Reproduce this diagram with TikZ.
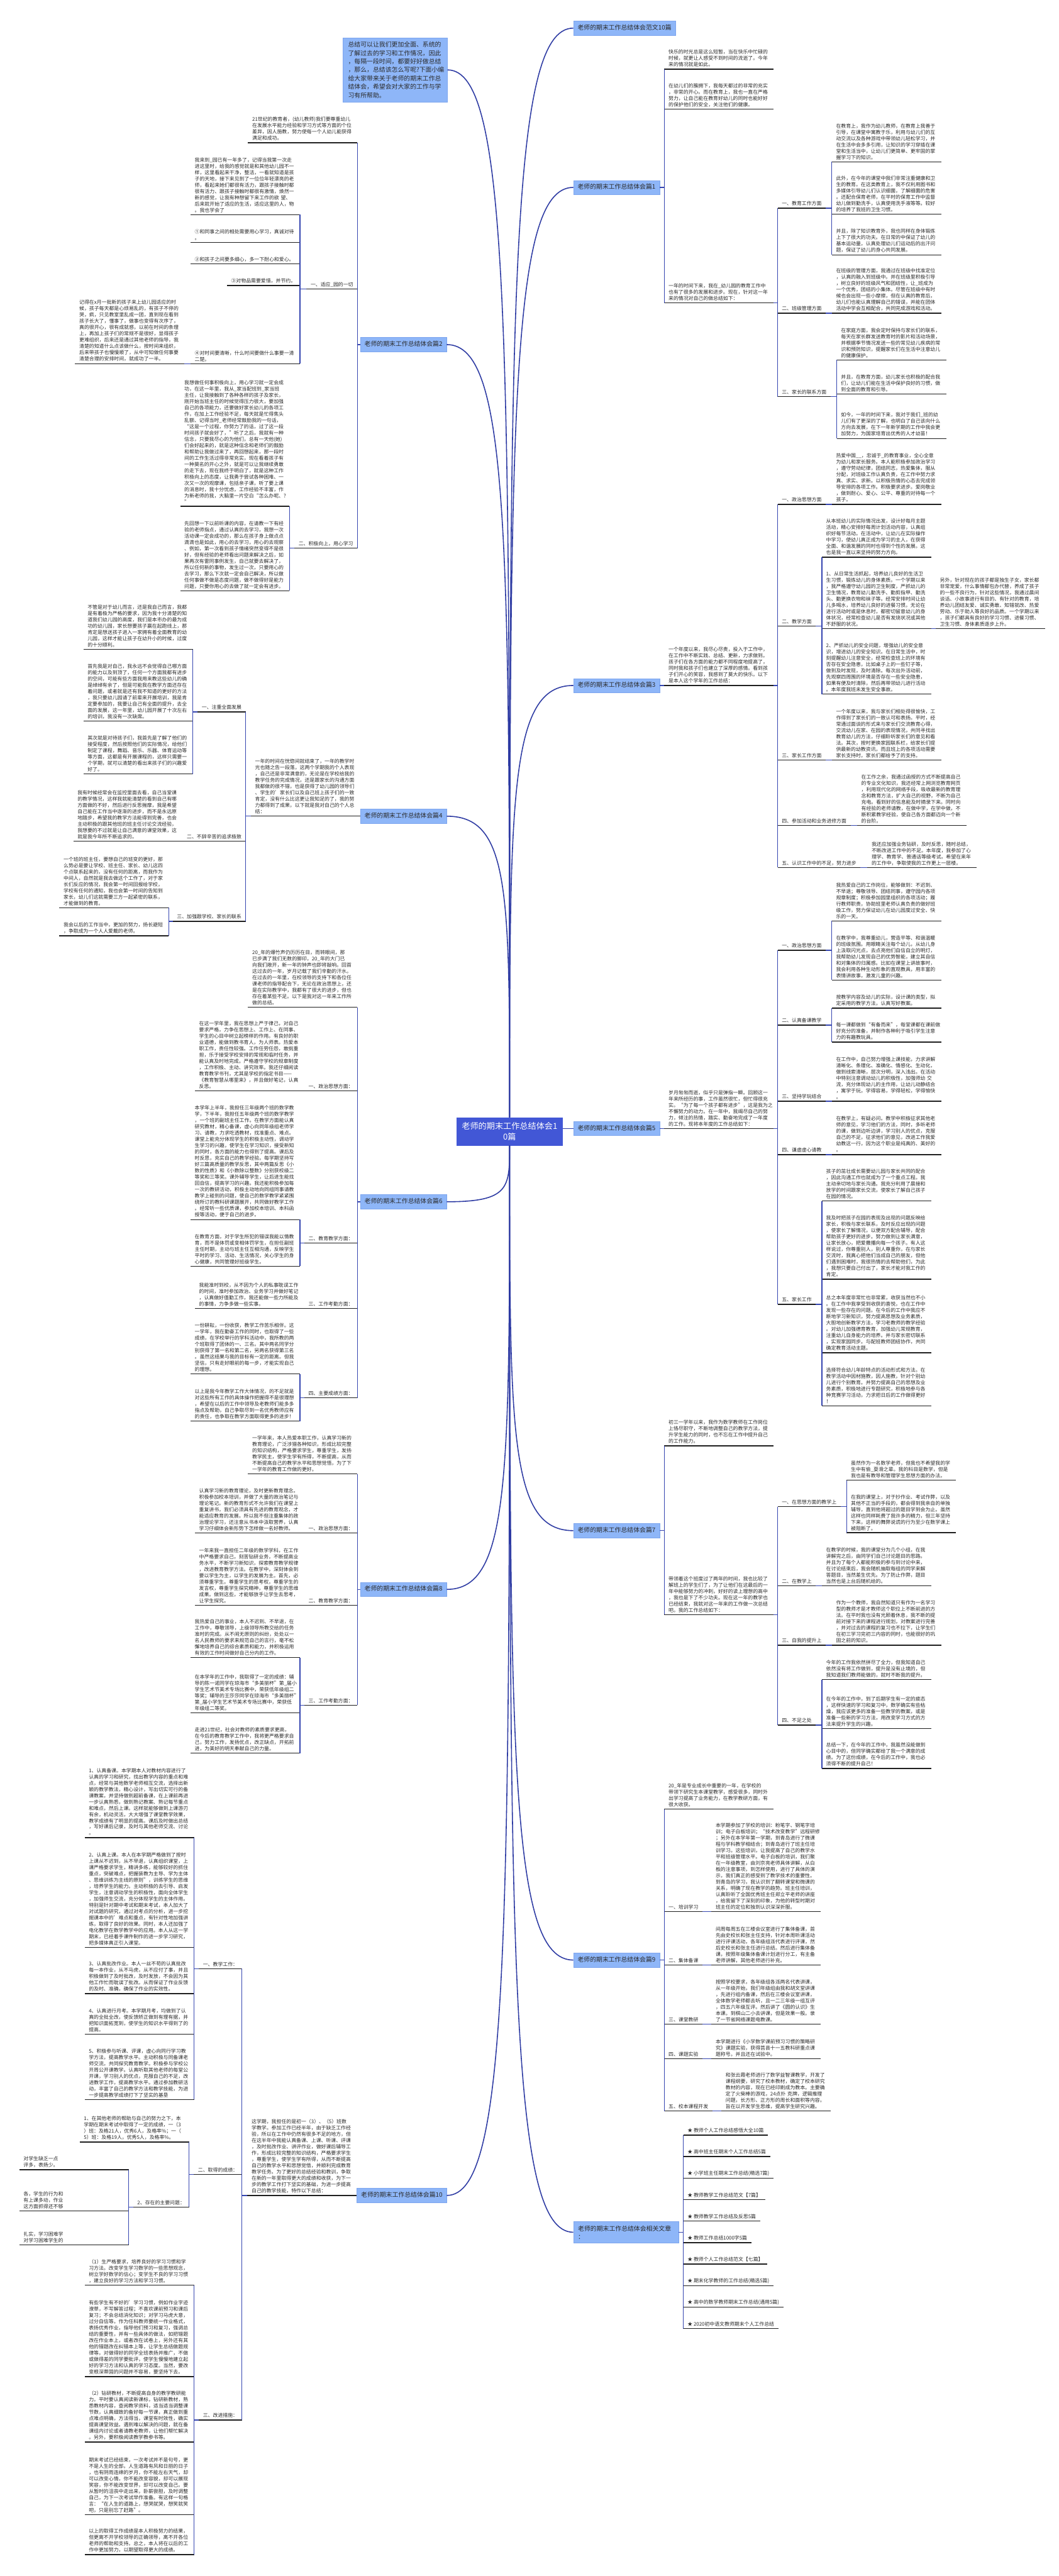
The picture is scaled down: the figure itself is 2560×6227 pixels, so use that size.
\documentclass[tikz,border=0pt]{standalone}
\usepackage{fontspec}
\setmainfont{Noto Sans CJK SC}
\usetikzlibrary{calc}
\definecolor{boxc}{HTML}{8EB6F8}
\definecolor{boxd}{HTML}{7DA5EE}
\definecolor{ctrc}{HTML}{4257D6}
\definecolor{curvec}{HTML}{2E3BA3}
\definecolor{busc}{HTML}{3545B0}
\definecolor{ulc}{HTML}{1E1E1E}
\definecolor{txt}{HTML}{2A2A2A}
\tikzset{
  mmline/.style={draw=ulc,line width=2pt},
  mmul/.style={append after command={(\tikzlastnode.south west) edge[mmline] (\tikzlastnode.south east)}},
  mmbody/.style={font=\fontsize{12}{15.2}\selectfont,text width=244pt,align=left,inner xsep=10pt,inner ysep=5pt,text=txt,mmul},
  mmlab/.style={font=\fontsize{12}{15.2}\selectfont,inner xsep=10pt,inner ysep=5pt,text=txt,mmul},
  mmbus/.style={draw=busc,line width=2pt},
  mmcurve/.style={draw=curvec,line width=2.4pt},
  mmbranch/.style={fill=boxc,draw=boxd,line width=0.8pt,font=\fontsize{15}{20}\selectfont,inner xsep=10pt,inner ysep=9pt,text=txt,text height=12pt,text depth=4pt},
  mmbranchb/.style={fill=boxc,draw=boxd,line width=0.8pt,font=\fontsize{15}{20}\selectfont,inner xsep=11pt,inner ysep=9pt,text=txt,text width=232pt,align=left},
  mmintro/.style={fill=boxc,draw=boxd,line width=0.8pt,font=\fontsize{15}{20.3}\selectfont,inner xsep=12pt,inner ysep=10pt,text=txt,text width=228pt,align=left},
  mmcenter/.style={fill=ctrc,draw=ctrc,font=\fontsize{20}{25.5}\selectfont,text=white,align=center,text width=232pt,inner xsep=12pt,inner ysep=12pt}
}
\newcommand{\mmRN}[4]{\node[mmbody,anchor=south west] (#1) at (#2,#3) {#4};}
\newcommand{\mmLN}[4]{\node[mmbody,anchor=south east] (#1) at (#2,#3) {#4};}
\newcommand{\mmRL}[4]{\node[mmlab,anchor=south west] (#1) at (#2,#3) {#4};}
\newcommand{\mmLL}[4]{\node[mmlab,anchor=south east] (#1) at (#2,#3) {#4};}
\newcommand{\mmR}[2]{\draw[mmbus] (#1.south east) -| (#2.south west);}
\newcommand{\mmL}[2]{\draw[mmbus] (#1.south west) -| (#2.south east);}
\begin{document}
\begin{tikzpicture}[x=1pt,y=-1pt]
\fill[white] (0,0) rectangle (2560,6227);
\useasboundingbox (0,0) rectangle (2560,6227);

% ---------- center and branches ----------
\node[mmcenter] (ct) at (1232,2735) {老师的期末工作总结体会1\\0篇};

\node[mmbranch,anchor=west] (rb0) at (1386,68) {老师的期末工作总结体会范文10篇};
\node[mmbranch,anchor=west] (rb1) at (1386,453) {老师的期末工作总结体会篇1};
\node[mmbranch,anchor=west] (rb3) at (1386,1657) {老师的期末工作总结体会篇3};
\node[mmbranch,anchor=west] (rb5) at (1386,2728) {老师的期末工作总结体会篇5};
\node[mmbranch,anchor=west] (rb7) at (1386,3700) {老师的期末工作总结体会篇7};
\node[mmbranch,anchor=west] (rb9) at (1386,4738) {老师的期末工作总结体会篇9};
\node[mmbranchb,anchor=west] (rbx) at (1386,5396) {老师的期末工作总结体会相关文章\\：};

\node[mmintro,anchor=east] (lb0) at (1082,169) {总结可以让我们更加全面、系统的\\了解过去的学习和工作情况，因此\\，每隔一段时间，都要好好做总结\\，那么，总结该怎么写呢?下面小编\\给大家带来关于老师的期末工作总\\结体会，希望会对大家的工作与学\\习有所帮助。};
\node[mmbranch,anchor=east] (lb2) at (1080,833) {老师的期末工作总结体会篇2};
\node[mmbranch,anchor=east] (lb4) at (1080,1973) {老师的期末工作总结体会篇4};
\node[mmbranch,anchor=east] (lb6) at (1080,2905) {老师的期末工作总结体会篇6};
\node[mmbranch,anchor=east] (lb8) at (1080,3842) {老师的期末工作总结体会篇8};
\node[mmbranch,anchor=east] (lb10) at (1080,5307) {老师的期末工作总结体会篇10};

\foreach \b in {rb0,rb1,rb3}
  {\draw[mmcurve] (ct.north) .. controls ($(ct.north)!0.75!(ct.north |- \b.west)$) and (ct.north |- \b.west) .. (\b.west);}
\foreach \b in {rb7,rb9,rbx}
  {\draw[mmcurve] (ct.south) .. controls ($(ct.south)!0.75!(ct.south |- \b.west)$) and (ct.south |- \b.west) .. (\b.west);}
\foreach \b in {lb0,lb2,lb4}
  {\draw[mmcurve] (ct.north) .. controls ($(ct.north)!0.75!(ct.north |- \b.east)$) and (ct.north |- \b.east) .. (\b.east);}
\foreach \b in {lb6,lb8,lb10}
  {\draw[mmcurve] (ct.south) .. controls ($(ct.south)!0.75!(ct.south |- \b.east)$) and (ct.south |- \b.east) .. (\b.east);}
\draw[mmcurve] (ct.east |- rb5.west) -- (rb5.west);

% ---------- 篇1 ----------
\mmRN{r1a}{1606}{167}{快乐的时光总是这么短暂，当在快乐中忙碌的\\时候，就更让人感受不到时间的流逝了。今年\\来的情况就是如此。}
\mmRN{r1b}{1606}{264}{在幼儿们的簇拥下，我每天都过的非常的充实\\，非常的开心。而在教育上，我也一直在严格\\努力，让自己能在教育好幼儿的同时也能好好\\的保护他们的安全，关注他们的健康。}
\mmRN{r1c}{1606}{732}{一年的时间下来，我在\_幼儿园的教育工作中\\也有了很多的发展和进步。现在，针对这一年\\来的情况对自己的做总结如下：}
\mmRL{r1c1}{1880}{503}{一、教育工作方面}
\mmRN{r1c1a}{2011}{391}{在教育上，我作为幼儿教师，在教育上我善于\\引导，在课堂中寓教于乐，利用与幼儿们的互\\动交流以及各种游戏中带领幼儿轻松学习，并\\在生活中会多多引用，让知识的学习穿插在课\\堂和生活当中，让幼儿们更简单、更牢固的掌\\握学习下的知识。}
\mmRN{r1c1b}{2011}{518}{此外，在今年的课堂中我们非常注重健康和卫\\生的教育。在这类教育上，我不仅利用图书和\\多媒体引导幼儿们认识细菌，了解细菌的危害\\。还配合保育老师，在平时的保育工作中监督\\幼儿做到勤洗手，认真使用洗手液等等。较好\\的培养了我班的卫生习惯。}
\mmRN{r1c1c}{2011}{616}{并且，除了知识教育外，我也同样在身体锻炼\\上下了很大的功夫。在日常的中保证了幼儿的\\基本运动量，认真处理幼儿们运动后的出汗问\\题，保证了幼儿的身心共同发展。}
\mmRL{r1c2}{1880}{757}{二、班级管理方面}
\mmRN{r1c2a}{2011}{757}{在班级的管理方面，我通过在班级中找准定位\\，认真的融入到班级中。并在班级里积极引导\\，树立良好的班级风气和团结性，让\_班成为\\一个优秀，团结的小集体。尽管在班级中有时\\候也会出现一些小摩擦，但在认真的教育后，\\幼儿们也能认真理解自己的错误，并能在团体\\活动中学会互相配合，共同完成游戏和活动。}
\mmRL{r1c3}{1880}{959}{三、家长的联系方面}
\mmRN{r1c3a}{2023}{870}{在家庭方面，我会定时保持与家长们的联系，\\每天在家长群发送教育时的影片和活动场景，\\并根据季节情况发送一些的常见幼儿疾病的常\\识和预防知识，提醒家长们在生活中注意幼儿\\的健康保护。}
\mmRN{r1c3b}{2023}{952}{并且，在教育方面，幼儿家长也积极的配合我\\们，让幼儿们能在生活中保护良好的习惯，做\\到全面的教育和引导。}
\mmRN{r1c3c}{2023}{1060}{如今，一年的时间下来，我对于我们\_班的幼\\儿们有了更深的了解，也明白了自己该向什么\\方向去发展，在下一年新学期的工作中我会更\\加努力，为国家培育出优秀的人才幼苗！}
\foreach \c in {r1a,r1b,r1c} {\draw[mmbus] (rb1.east) -| (\c.south west);}
\foreach \c in {r1c1,r1c2,r1c3} {\mmR{r1c}{\c}}
\foreach \c in {r1c1a,r1c1b,r1c1c} {\mmR{r1c1}{\c}}
\mmR{r1c2}{r1c2a}
\foreach \c in {r1c3a,r1c3b,r1c3c} {\mmR{r1c3}{\c}}

% ---------- 篇3 ----------
\mmRN{r3}{1606}{1657}{一个年度以来，我尽心尽责，投入于工作中，\\在工作中不断实践、总结、更新，力求做到。\\孩子们在各方面的能力都不同程度地提高了，\\同时我和孩子们也建立了深厚的感情。看到孩\\子们开心的笑容，我感到了莫大的快乐。以下\\是本人这个学年的工作总结：}
\mmRL{r3a}{1880}{1219}{一、政治思想方面}
\mmRN{r3a1}{2011}{1219}{热爱中国\_\_，忠诚于\_的教育事业，全心全意\\为幼儿和家长服务。本人能积极参加政治学习\\，遵守劳动纪律，团结同志，热爱集体，服从\\分配，对班级工作认真负责，在工作中努力求\\真、求实、求新。以积极热情的心态去完成领\\导安排的各项工作。积极要求进步。爱岗敬业\\，做到耐心、爱心、公平、尊重的对待每一个\\孩子。}
\mmRL{r3b}{1880}{1513}{二、教学方面}
\mmRN{r3b1}{1987}{1347}{从本班幼儿的实际情况出发，设计好每月主题\\活动，精心安排好每周计划活动内容，认真组\\织好每节活动。在活动中，让幼儿在实际操作\\中学习，使幼儿真正成为学习的主人，在获得\\全面、和谐发展的同时也得到个性的发展。这\\也是我一直以来坚持的努力方向。}
\mmRN{r3b2}{1987}{1520}{1、从日常生活抓起，培养幼儿良好的生活卫\\生习惯，锻炼幼儿的身体素质。一个学期以来\\，我严格遵守幼儿园的卫生制度，严抓幼儿的\\卫生情况，教育幼儿勤洗手、勤剪指甲、勤洗\\头、勤更换衣物和袜子等。经常安排时间让幼\\儿多喝水，培养幼儿良好的进餐习惯。无论在\\进行活动时或是休息时，都密切留意幼儿的身\\体状况，经常检查幼儿是否有发烧状况或其他\\不舒服的状况。}
\mmRN{r3b2a}{2262}{1520}{另外，针对现在的孩子都是独生子女，家长都\\非常宠爱，什么事情都包办代替，养成了孩子\\的一些不良行为，针对这些情况，我通过晨间\\谈话、小故事进行有目的、有针对的教育，培\\养幼儿团结友爱、诚实勇敢、知错就改、热爱\\劳动、乐于助人等良好的品质。一个学期以来\\，孩子们都具有良好的学习习惯、进餐习惯、\\卫生习惯、身体素质逐步上升。}
\mmRN{r3b3}{1987}{1678}{2、严抓幼儿的安全问题，增强幼儿的安全意\\识，增进幼儿的安全知识。在日常生活中，时\\刻提醒幼儿注意安全，经常检查班上的环境有\\否存在安全隐患，比如桌子上的一些钉子等，\\做到及时发现，及时清除。每次出外活动前，\\先观察四周围的环境是否存在一些安全隐患，\\如果有便及时清除，然后再带领幼儿进行活动\\。本年度我班未发生安全事故。}
\mmRL{r3c}{1880}{1837}{三、家长工作方面}
\mmRN{r3c1}{2011}{1837}{一个年度以来，我与家长们相处得很愉快，工\\作得到了家长们的一致认可和表扬。平时，经\\常通过面谈的形式来与家长们交流教育心得，\\交流幼儿在家、在园的表现情况，共同寻找出\\教育幼儿的方法，仔细聆听家长们的意见和看\\法。其次，按时更换家园联系栏，给家长们提\\供最新的幼教资讯，而且班上的各项活动需要\\家长支持时，家长们都给予了的支持。}
\mmRL{r3d}{1880}{1995}{四、参加活动和业务进修方面}
\mmRN{r3d1}{2072}{1995}{在工作之余，我通过函授的方式不断提高自己\\的专业文化知识，我还经常上网浏览教育网页\\，利用现代化的网络手段，吸收最新的教育理\\念和教育方法，扩大自己的视野，不断为自己\\充电。看到好的信息能及时摘录下来。同时向\\有经验的老师请教，在做中学，在学中做，不\\断积累教学经验，使自己各方面都迈向一个新\\的台阶。}
\mmRL{r3e}{1880}{2097}{五、认识工作中的不足，努力进步}
\mmRN{r3e1}{2097}{2097}{我还应加强业务钻研，及时反思，随时总结，\\不断改进工作中的不足。本年度，我参加了心\\理学、教育学、普通话等级考试。希望在来年\\的工作中，争取使我的工作更上一层楼。}
\draw[mmbus] (rb3.east) -| (r3.south west);
\foreach \c in {r3a,r3b,r3c,r3d,r3e} {\mmR{r3}{\c}}
\mmR{r3a}{r3a1}
\foreach \c in {r3b1,r3b2,r3b3} {\mmR{r3b}{\c}}
\mmR{r3b2}{r3b2a}
\mmR{r3c}{r3c1}
\mmR{r3d}{r3d1}
\mmR{r3e}{r3e1}

% ---------- 篇5 ----------
\mmRN{r5}{1606}{2728}{岁月匆匆而逝，似乎只是弹指一瞬。回顾这一\\年来所经历的事，工作虽然很忙，但忙得很充\\实。“为了每一个孩子都有进步”，这是我为之\\不懈努力的动力。在一年中，我竭尽自己的努\\力，倾注的热情，踏实、勤奋地完成了一年度\\的工作。现将本年度的工作总结如下：}
\mmRL{r5a}{1880}{2297}{一、政治思想方面}
\mmRN{r5a1}{2011}{2226}{我热爱自己的工作岗位，能够做到：不迟到、\\不早退；尊敬领导、团结同事，遵守园内各项\\规章制度；积极参加园里组织的各项活动；履\\行教师职责，协助班里老师认真负责的做好班\\级工作，努力保证幼儿在幼儿园度过安全、快\\乐的一天。}
\mmRN{r5a2}{2011}{2369}{在教学中，我尊重幼儿，营造平等、和谐温暖\\的班级氛围。用眼睛关注每个幼儿，从幼儿身\\上汲取闪光点，去点亮他们自信自立的明灯，\\我帮助幼儿发现自己的优势智能，建立其自信\\和对集体的归属感。比如在课堂上讲故事时，\\我会利用各种生动形象的直观教具，用丰富的\\表情讲故事，激发儿童的兴趣。}
\mmRL{r5b}{1880}{2478}{二、认真备课教学}
\mmRN{r5b1}{2011}{2437}{按教学内容及幼儿的实际，设计课的类型，拟\\定采用的教学方法，认真写好教案。}
\mmRN{r5b2}{2011}{2519}{每一课都做到“有备而来”，每堂课都在课前做\\好充分的准备，并制作各种利于吸引学生注意\\力的有趣教玩具。}
\mmRL{r5c}{1880}{2662}{三、坚持学玩结合}
\mmRN{r5c1}{2011}{2662}{在工作中，自己努力增强上课技能，力求讲解\\清晰化、条理化、准确化、情感化、生动化，\\做到线索清晰，层次分明，深入浅出。在活动\\中特别注意调动幼儿的积极性，加强师幼 交\\流，充分体现幼儿的主作用，让幼儿动静结合\\，寓学于玩，学得容易，学得轻松，学得愉快\\。}
\mmRL{r5d}{1880}{2791}{四、谦虚虚心请教}
\mmRN{r5d1}{2011}{2791}{在教学上，有疑必问。教学中积极征求其他老\\师的意见，学习他们的方法，同时，多听老师\\的课，做到边听边讲，学习别人的优点，克服\\自己的不足，征求他们的意见，改进工作我爱\\幼教这一行，因为这个职业是纯真的、美好的\\。}
\mmRL{r5e}{1880}{3153}{五、家长工作}
\mmRN{r5e1}{1987}{2903}{孩子的茁壮成长需要幼儿园与家长共同的配合\\，因此沟通工作也就成为了一个重点工程。我\\主动亲切地与家长沟通。我充分利用了晨接和\\放学的时间跟家长交流，使家长了解自己孩子\\在园的情况。}
\mmRN{r5e2}{1987}{3092}{我及时把孩子在园的表现及出现的问题反映给\\家长，积极与家长联系，及时反应出现的问题\\，使家长了解情况，以便双方配合辅导，配合\\帮助孩子更好的进步。努力做到让家长满意，\\让家长放心，把爱撒播向每一个孩子。有人这\\样说过，你尊重别人，别人尊重你，在与家长\\交流时，我真心把他们当成自己的朋友，但他\\们遇到困难时，我很热情的去帮助他们，为此\\，我想只要自己付出了，家长才能对我工作的\\肯定。}
\mmRN{r5e3}{1987}{3270}{总之本年度非常忙也非常累，收获当然也不小\\。在工作中我享受到收获的喜悦，也在工作中\\发现一些存在的问题。在今后的工作中我应不\\断地学习新知识，努力提高思想及业务素质，\\大胆地创新教学方法，学习老教师的教学经验\\。对幼儿加强德育教育，加强幼儿常规教育，\\注重幼儿自身能力的培养。并与家长密切联系\\，实现家园同步。与配班教师团结协作，共同\\确定教育活动主题。}
\mmRN{r5e4}{1987}{3398}{选择符合幼儿年龄特点的活动形式和方法。在\\教学活动中因材施教，因人施教，针对个别幼\\儿进行个别教育。并努力提高自己的思想及业\\务素质，积极地进行专题研究，积极地参与各\\种竞赛学习活动，力求把日后的工作做得更好\\！}
\draw[mmbus] (rb5.east) -| (r5.south west);
\foreach \c in {r5a,r5b,r5c,r5d,r5e} {\mmR{r5}{\c}}
\foreach \c in {r5a1,r5a2} {\mmR{r5a}{\c}}
\foreach \c in {r5b1,r5b2} {\mmR{r5b}{\c}}
\mmR{r5c}{r5c1}
\mmR{r5d}{r5d1}
\foreach \c in {r5e1,r5e2,r5e3,r5e4} {\mmR{r5e}{\c}}

% ---------- 篇7 ----------
\mmRN{r7a}{1606}{3495}{初三一学年以来，我作为数学教师在工作岗位\\上恪尽职守，不断地调整自己的教学方法，提\\升学生能力的同时，也不忘在工作中提升自己\\的工作能力。}
\mmRN{r7b}{1606}{3903}{带领着这个班度过了两年的时间，我也比较了\\解班上的学生们了，为了让他们在这最后的一\\年中能够努力的冲刺，好好的读上理想的高中\\，我也是下了不少功夫。现在这一年的教学也\\已经结束，我就对这一年来的工作做一次总结\\吧。我的工作总结如下：}
\mmRL{r7b1}{1880}{3642}{一、在思想方面的教学上}
\mmRN{r7b1a}{2047}{3578}{虽然作为一名数学老师，但我也不希望我的学\\生中有偷\_耍滑之辈。我的科目是数学，但是\\我也是有教导和管理学生思想方面的办法。}
\mmRN{r7b1b}{2047}{3705}{在我的课堂上，对于抄作业、考试作弊，以及\\其他不正当的手段的，都会得到我亲自的单独\\辅导，直到他将超过的题目学到会为止。虽然\\这样也同样耗费了我许多的精力，但三年坚持\\下来，这样的舞弊说谎的行为至少在数学课上\\被阻断了。}
\mmRL{r7b2}{1880}{3833}{二、在教学上}
\mmRN{r7b2a}{1987}{3833}{在教学的时候，我的课堂分为几个小组，在我\\讲解完之后，由同学们自己讨论题目的思路。\\并且为了每个人都能积极的参与到讨论中来，\\在讨论结束后，我会随机抽取每组的同学来解\\答题目，当然差生优先。为了防止作弊，题目\\当然也是上台后随机给的。}
\mmRL{r7b3}{1880}{3977}{三、自我的提升上}
\mmRN{r7b3a}{2011}{3977}{作为一个教师，我自然知道只有作为一名学习\\型的教师才是才教师这个职位上不断前进的方\\法。在平时我也没有光顾着休息，我不断的提\\前对接下来的课程进行规划，对教案进行完善\\，并对过去的课程的复习也不拉下，让学生们\\在初三学习完初三内容的同时，也能很好的巩\\固之前的知识。}
\mmRL{r7b4}{1880}{4170}{四、不足之处}
\mmRN{r7b4a}{1987}{4060}{今年的工作我依然拼尽了全力，但我知道自己\\依然没有将工作做到，提升是没有止境的，但\\我知道我们教师能做的，就时不断我的提升。}
\mmRN{r7b4b}{1987}{4178}{在今年的工作中，到了后期学生有一定的疲态\\，这样快速的学习和复习中，数学确实有些枯\\燥，我应该更多的准备一些教学的教案，或是\\准备一些新的学习方法，用改变学习方式的方\\法来提升学生的兴趣。}
\mmRN{r7b4c}{1987}{4275}{总结一下，在今年的工作中，我虽然没能做到\\心目中的，但同学确实都给了我一个满意的成\\绩。为了这份成绩，在今后的工作中，我也必\\须得不断的提升自己！}
\foreach \c in {r7a,r7b} {\draw[mmbus] (rb7.east) -| (\c.south west);}
\foreach \c in {r7b1,r7b2,r7b3,r7b4} {\mmR{r7b}{\c}}
\foreach \c in {r7b1a,r7b1b} {\mmR{r7b1}{\c}}
\mmR{r7b2}{r7b2a}
\mmR{r7b3}{r7b3a}
\foreach \c in {r7b4a,r7b4b,r7b4c} {\mmR{r7b4}{\c}}

% ---------- 篇9 ----------
\mmRN{r9a}{1606}{4373}{20\_年是专业成长中重要的一年，在学校的\\带领下研究生本课堂教学，感受很多，同时外\\出学习提高了业务能力，在教学教研方面，有\\很大收获。}
\mmRL{r9b}{1606}{4621}{一、培训学习}
\mmRN{r9b1}{1720}{4621}{本学期参加了学校的培训：粉笔字、钢笔字培\\训；电子白板培训；“技术改变教学”远程研修\\；另外在本学年第一学期，到青岛进行了微课\\程与学科教学相结合；到青岛进行了班主任培\\训学习。这些培训，让我提高了自己的教学水\\平和班级管理水平。电子白板的培训，我们聚\\在一年级教室，由刘京亮老师具体讲解，从白\\板的注意事项，到怎样使用，进行了具体的演\\示，我们真正的感受到了教学技术的重要性。\\到青岛的学习，我认识到了翻转课堂和微课的\\关系，明确了现在教学的趋势。班主任培训，\\认真聆听了全国优秀班主任郑立平老师的讲座\\，给我留下了深刻的印象，为他的转型时期对\\班主任的定位和独到认识深深折服。}
\mmRL{r9c}{1606}{4750}{二、集体备课}
\mmRN{r9c1}{1720}{4750}{间周每周五在三楼会议室进行了集体备课，首\\先由史校长和张主任支持，针对本周听课活动\\进行评课活动，各年级组派代表进行评课，然\\后史校长和张主任进行总结。然后进行集体备\\课，按照年级集体备课计划进行分工，有主备\\老师讲解，其他老师进行补充。}
\mmRL{r9d}{1606}{4893}{三、课堂教研}
\mmRN{r9d1}{1720}{4893}{按照学校要求，各年级组各派两名代表讲课，\\从一年级开始，我们年级组由我和胡文堂讲课\\，先进行组内备课，然后在三楼会议室讲课，\\全体数学老师都去听，且一二三年级一组互评\\，四五六年级互评。然后讲了《圆的认识》生\\本课。到棋山二小去讲课，但是效果一般。录\\了一节省网络课题电教课。}
\mmRL{r9e}{1606}{4976}{四、课题实验}
\mmRN{r9e1}{1720}{4976}{本学期进行《小学数学课前预习习惯的策略研\\究》课题实验，获得莒县十一五教科研重点课\\题称号。并且还在试验中。}
\mmRL{r9f}{1606}{5103}{五、校本课程开发}
\mmRN{r9f1}{1744}{5103}{和张云霞老师进行了数学益智课教学，开发了\\课程纲要，研究了校本教材，确定了校本研究\\教材的内容，现在已经印刷成为教本。主要确\\定了火柴棒的游戏，24点扑 克牌，逻辑推理\\问题，长方形、正方形的周长和面积等内容。\\旨在以开发学生思维，提高学生研究兴趣。}
\foreach \c in {r9a,r9b,r9c,r9d,r9e,r9f} {\draw[mmbus] (rb9.east) -| (\c.south west);}
\mmR{r9b}{r9b1}
\mmR{r9c}{r9c1}
\mmR{r9d}{r9d1}
\mmR{r9e}{r9e1}
\mmR{r9f}{r9f1}

% ---------- related articles ----------
\mmRL{rx1}{1652}{5161}{★ 教师个人工作总结感悟大全10篇}
\mmRL{rx2}{1652}{5213}{★ 高中班主任期末个人工作总结5篇}
\mmRL{rx3}{1652}{5265}{★ 小学班主任期末工作总结(精选7篇)}
\mmRL{rx4}{1652}{5317}{★ 教师教学工作总结范文【7篇】}
\mmRL{rx5}{1652}{5369}{★ 教师教学工作总结及反思5篇}
\mmRL{rx6}{1652}{5421}{★ 教师工作总结1000字5篇}
\mmRL{rx7}{1652}{5473}{★ 教师个人工作总结范文【七篇】}
\mmRL{rx8}{1652}{5525}{★ 期末化学教师的工作总结(精选5篇)}
\mmRL{rx9}{1652}{5577}{★ 高中的数学教师期末工作总结(通用5篇)}
\mmRL{rx10}{1652}{5629}{★ 2020初中语文教师期末个人工作总结}
\foreach \c in {rx1,rx2,rx3,rx4,rx5,rx6,rx7,rx8,rx9,rx10} {\draw[mmbus] (rbx.east) -| (\c.south west);}

% ---------- 篇2 ----------
\mmLN{l2a}{864}{345}{21世纪的教育者，(幼儿教师)我们要尊重幼儿\\在发展水平能力经验和学习方式等方面的个位\\差异，因人施教，努力使每一个人幼儿能获得\\满足和成功。}
\mmLL{l2b}{864}{699}{一、适应\_园的一切}
\mmLN{l2b1}{725}{519}{我来到\_园已有一年多了，记得当我第一次走\\进这里时，给我的感觉就是和其他幼儿园不一\\样，这里看起来干净，整洁，一看就知道是孩\\子的天地，接下来见到了一位位年轻漂亮的老\\师，看起来她们都很有活力，跟孩子接触时都\\很有活力、跟孩子接触时都很有激情，焕然一\\新的感觉，让我有种想留下来工作的欲 望、\\后来就开始了适应的生活，适应这里的人，物\\。我也学会了}
\mmLN{l2b2}{725}{586}{①和同事之间的相处需要用心学习，真诚对待\\。}
\mmLN{l2b3}{725}{638}{②和孩子之间要多细心，多一下耐心和爱心。}
\mmLL{l2b4}{725}{690}{③对物品需要爱惜，并节约。}
\mmLN{l2b5}{725}{879}{④对时间要清晰，什么时间要做什么事要一清\\二楚。}
\mmLN{l2b5a}{446}{879}{记得在x月一批新的孩子来上幼儿园适应的时\\候，孩子每天都是心烦易乱的，有孩子不停的\\哭，疯，只见教室里乱成一团，直到现在看到\\孩子长大了，懂事了，做事也变得有次序了，\\真的很开心，很有成就感，以前在时间的条理\\上，再加上孩子们的常规不是很好，显得孩子\\更难组织，后来还是通过其他老师的指导，我\\清楚的知道什么点该做什么，按时间来组织，\\后来带孩子也慢慢顺了，从中可知做任何事要\\清楚合理的安排时间，就成功了一半。}
\mmLL{l2c}{864}{1325}{二、积极向上，用心学习}
\mmLN{l2c1}{700}{1224}{我想做任何事积极向上，用心学习就一定会成\\功，在这一年里，我从\_家当配班到\_家当班\\主任，让我接触到了各种各样的孩子及家长，\\刚开始当班主任的时候觉得压力很大，要加强\\自己的各项能力，还要做好家长幼儿的各项工\\作，在加上工作经验不足，每天就是忙得焦头\\乱额、记得当时\_老师经常鼓励我的一句话，\\“这是一个过程，你努力了的话，过了这一段\\时间孩子就会好了，”听了之后，我就有一种\\信念，只要我尽心的为他们，总有一天他(她)\\们会好起来的，就是这种信念和老师们的鼓励\\和帮助让我做过来了，再回想起来，那一段时\\间的工作生活过得非常充实，现在看着孩子有\\一种莫名的开心之外，就是可以让我继续勇敢\\的走下去，现在我终于明白了，就是这种工作\\积极向上的态度，让我勇于尝试各种困难、一\\次又一次的观摩课，包括亲子课，听了要上课\\的消息时，我十分忧虑，工作经验不丰富，作\\为新老师的我，大脑里一片空白“怎么办呢、?\\”}
\mmLN{l2c2}{700}{1428}{先回想一下以前听课的内容，在请教一下有经\\验的老师指点，通过认真的去学习，我想一次\\活动课一定会成功的，那么在孩子身上做点点\\滴滴也是如此，用心的去学习，用心的去观察\\、例如，第一次看到孩子情绪突然变得不是很\\好，但有经验的老师看出问题来解决之后，如\\果再次有雷同事例发生，自己就要去解决了，\\所以任何新的事物，发生过一次，只要用心的\\去学习，那么下次就一定会自己解决，所以做\\任何事做不做是态度问题，做不做得好是能力\\问题，只要你用心的去做了就一定会有进步。}
\foreach \c in {l2a,l2b,l2c} {\draw[mmbus] (lb2.west) -| (\c.south east);}
\foreach \c in {l2b1,l2b2,l2b3,l2b4,l2b5} {\mmL{l2b}{\c}}
\mmL{l2b5}{l2b5a}
\foreach \c in {l2c1,l2c2} {\mmL{l2c}{\c}}

% ---------- 篇4 ----------
\node[mmbody,anchor=south east] (l4) at (lb4.west) {一年的时间在恍惚间就结束了，一年的教学时\\光也随之告一段落，这两个学期我的个人表现\\，自己还是非常满意的，无论是在学校给我的\\教学任务的完成情况，还是跟家长的沟通方面\\我都做的很不错，也是获得了幼儿园的领导们\\、学生的'家长们以及自己班上孩子们的一致\\肯定，没有什么比这更让我知足的了，我的努\\力都得到了成果，以下就是我对自己的个人总\\结：};
\mmLL{l4a}{594}{1721}{一、注重全面发展}
\mmLN{l4a1}{466}{1570}{不管是对于幼儿而言，还是我自己而言，我都\\是有着极为严格的要求，因为我十分清楚的知\\道我们幼儿园的高度，我们是本市办的最为成\\功的幼儿园，家长想要孩子赢在起跑线上，那\\肯定是想送孩子进入一家拥有着全面教育的幼\\儿园，这样才能让孩子在幼升小的时候，过度\\的十分顺利。}
\mmLN{l4a2}{466}{1743}{首先我是对自己，我永远不会觉得自己哪方面\\的能力以及到顶了，任何一个方面我都有进步\\的空间，可能有些方面我用来教这些幼儿的确\\是绰绰有余了，但是可能我在教学方面还存在\\着问题，或者就是还有我不知道的更好的方法\\，我只要幼儿园请了前辈来开展培训，我是肯\\定要参加的，我要让自己有全面的提升，去全\\面的发展，这一年里，幼儿园开展了十次左右\\的培训，我没有一次缺席。}
\mmLN{l4a3}{466}{1871}{其次就是对待孩子们，我首先是了解了他们的\\接受程度，然后按照他们的实际情况，给他们\\制定了课程，舞蹈、音乐、乐器、体育运动等\\等方面，这都是有开展课程的，这样只需要一\\个学期，就可以清楚的看出来孩子们的兴趣爱\\好了。}
\mmLL{l4b}{594}{2033}{二、不辞辛苦的追求极致}
\node[mmbody,anchor=south east] (l4b1) at (l4b.south west) {我有时候经常会在监控里面去看，自己当堂课\\的教学情况，这样我就能清楚的看到自己有哪\\方面做的不好，然后进行反思揣摩，我是希望\\自己能在工作当中逐渐的进步，而不是永远原\\地踏步，希望我的教学方法能得到完善，也会\\主动积极的跟其他班的班主任讨论交流经验，\\我想要的不过就是让自己满意的课堂效果，这\\就是我今年所不断追求的。};
\mmLL{l4c}{594}{2227}{三、加强跟学校、家长的联系}
\mmLN{l4c1}{408}{2194}{一个班的班主任，要想自己的班变的更好，那\\么势必是要让学校、班主任、家长、幼儿这四\\个点联系起来的，没有任何的距离，而我作为\\中间人，自然就是我去做这个工作了，对于家\\长们反应的情况，我会第一时间回报给学校，\\学校有任何的通知，我也会第一时间的告知到\\家长，幼儿们这就需要三方一起紧密的联系，\\才能做到的教育。}
\mmLN{l4c2}{408}{2262}{我会以后的工作当中，更加的努力，扬长避短\\，争取成为一个人人爱戴的老师。}
\draw[mmbus] (lb4.west) -- (l4.south east);
\foreach \c in {l4a,l4b,l4c} {\mmL{l4}{\c}}
\foreach \c in {l4a1,l4a2,l4a3} {\mmL{l4a}{\c}}
\foreach \c in {l4c1,l4c2} {\mmL{l4c}{\c}}

% ---------- 篇6 ----------
\mmLN{l6a}{864}{2435}{20\_年的爆竹声仍历历在目，而转眼间，那\\已步满了我们无数的脚印，20\_年的大门已\\向我们敞开，新一年的钟声也即将敲响。回首\\这过去的一年，岁月记载了我们辛勤的汗水。\\在过去的一年里，在校领导的支持下和各位任\\课老师的指导配合下，无论在政治思想上，还\\是在实际教学中，我都有了很大的进步，但也\\存在着某些不足。以下是我对这一年来工作所\\做的总结。}
\mmLL{l6b}{864}{2637}{一、政治思想方面：}
\node[mmbody,anchor=south east] (l6b1) at (l6b.south west) {在这一学年里，我在思想上严于律己，对自己\\要求严格，力争在思想上、工作上、在同事、\\学生的心目中树立起榜样的作用。有良好的职\\业道德，能做到教书育人，为人师表。热爱本\\职工作，责任性较强。工作任劳任怨，敢挑重\\担，乐于接受学校安排的常规和临时任务，并\\能认真及时地完成。严格遵守学校的规章制度\\，工作积极、主动、讲究效率。我还仔细阅读\\教育教学书刊，尤其是学校的指定书目——\\《教育智慧从哪里来》，并且做好笔记，认真\\反思。};
\mmLL{l6c}{864}{3005}{二、教育教学方面：}
\mmLN{l6c1}{725}{2948}{本学年上半年，我担任三年级两个班的数学教\\学，下半年，我担任五年级两个班的数学教学\\，一个班的副班主任工作。在教学方面能认真\\研究教材，精心备课，虚心向同年级组老师学\\习、请教，力求吃透教材，找准重点、难点。\\课堂上能充分体现学生的积极主动性，调动学\\生学习的兴趣，使学生在学习知识，接受新知\\的同时，各方面的能力也得到了提高。课后及\\时反思，充实自己的教学经验。每学期坚持写\\好三篇高质量的教学反思，其中两篇反思《小\\数的性质》和《小数除以整数》分别获校级二\\等奖和三等奖。课外辅导学生，让后进生能找\\回自信，提高学习的兴趣。我还能积极参加每\\一次的教研活动，积极主动地向同组同事请教\\教学上碰到的问题，使自己的数学教学紧紧围\\绕所订的教科研课题展开，共同做好教学工作\\。经常听一些优质课，参加校本培训、本科函\\授等活动，便于自己的进步。}
\mmLN{l6c2}{725}{3061}{在教育方面，对于学生所犯的错误我能以情教\\育，而不是体罚或变相体罚学生，在担任副班\\主任时期，主动与班主任互相沟通，反映学生\\平时的学习、活动、生活情况，关心学生的身\\心健康，共同管理好班级学生。}
\mmLL{l6d}{864}{3163}{三、工作考勤方面：}
\node[mmbody,anchor=south east] (l6d1) at (l6d.south west) {我能准时到校，从不因为个人的私事耽误工作\\的时间，准时参加政治、业务学习并做好笔记\\，认真做好值勤工作，我还能做一些力所能及\\的事情，力争多做一些实事。};
\mmLL{l6e}{864}{3379}{四、主要成绩方面：}
\mmLN{l6e1}{725}{3321}{一份耕耘，一份收获，教学工作苦乐相伴。这\\一学年，我在勤奋工作的同时，也取得了一些\\成绩，在学校举行的学科活动中，我所教的两\\个班取得了团体的一、三名。其中两名同学分\\别获得了第一名和第二名，另两名获得第三名\\。虽然这结果与我的目标有一定的距离。但我\\坚信，只有走好眼前的每一步，才能实现自己\\的理想。}
\mmLN{l6e2}{725}{3435}{以上是我今年教学工作大体情况，的不足就是\\对这些所有工作的具体操作把握得不是很理想\\，希望在以后的工作中领导及老教师们能多多\\指点及帮助，自己争取尽到一名优秀教师应有\\的责任，也争取在教学方面取得更多的进步！}
\foreach \c in {l6a,l6b,l6c,l6d,l6e} {\draw[mmbus] (lb6.west) -| (\c.south east);}
\foreach \c in {l6c1,l6c2} {\mmL{l6c}{\c}}
\foreach \c in {l6e1,l6e2} {\mmL{l6e}{\c}}

% ---------- 篇8 ----------
\mmLN{l8a}{864}{3563}{一学年来，本人热爱本职工作，认真学习新的\\教育理论，广泛涉猎各种知识，形成比较完整\\的知识结构，严格要求学生，尊重学生，发扬\\教学民主，使学生学有所得，不断提高，从而\\不断提高自己的教学水平和思想觉悟，为了下\\一学年的教育工作做的更好。}
\mmLL{l8b}{864}{3706}{一、政治思想方面：}
\node[mmbody,anchor=south east] (l8b1) at (l8b.south west) {认真学习新的教育理论，及时更新教育理念。\\积极参加校本培训，并做了大量的政治笔记与\\理论笔记。新的教育形式不允许我们在课堂上\\重复讲书，我们必须具有先进的教育观念，才\\能适应教育的发展。所以我不但注重集体的政\\治理论学习，还注意从书本中汲取营养，认真\\学习仔细体会新形势下怎样做一名好教师。};
\mmLL{l8c}{864}{3880}{二、教育教学方面：}
\node[mmbody,anchor=south east] (l8c1) at (l8c.south west) {一年来我一直担任二年级的数学学科，在工作\\中严格要求自己，刻苦钻研业务，不断提高业\\务水平，不断学习新知识，探索教育教学规律\\，改进教育教学方法。在教学中，深刻体会到\\要以学生为主，以学生的发展为主。首先，必\\须尊重学生。尊重学生的思考权，尊重学生的\\发言权，尊重学生探究精神，尊重学生的思维\\成果。做到这些，才能够放手让学生去思考，\\让学生探究。};
\mmLL{l8d}{864}{4122}{三、工作考勤方面：}
\mmLN{l8d1}{725}{4007}{我热爱自己的事业，本人不迟到、不早退，在\\工作中，尊敬领导，上级领导所教交给的任务\\准时的完成。从不闹无原则的纠纷，处处以一\\名人民教师的要求来规范自己的言行，毫不松\\懈地培养自己的综合素质和能力，并积极运用\\有效的工作时间做好自己分内的工作。}
\mmLN{l8d2}{725}{4140}{在本学年的工作中，我取得了一定的成绩：辅\\导的陈一诺同学在琼海市“多美丽杯”第\_届小\\学生艺术节美术专场比赛中，荣获低年级组二\\等奖；辅导的王莎莎同学在琼海市“多美丽杯”\\第\_届小学生艺术节美术专场比赛中，荣获低\\年级组二等奖。}
\mmLN{l8d3}{725}{4238}{走进21世纪，社会对教师的素质要求更高，\\在今后的教育教学工作中，我将更严格要求自\\己，努力工作，发扬优点，改正缺点，开拓前\\进，为美好的明天奉献自己的力量。}
\foreach \c in {l8a,l8b,l8c,l8d} {\draw[mmbus] (lb8.west) -| (\c.south east);}
\foreach \c in {l8d1,l8d2,l8d3} {\mmL{l8d}{\c}}

% ---------- 篇10 ----------
\node[mmbody,anchor=south east] (l10) at (lb10.west) {这学期，我担任的是初一（3）、（5）班数\\学教学。参加工作已经半年，由于缺乏工作经\\验，所以在工作中仍然有很多不足的地方，但\\在这半年中我能认真备课、上课、听课、评课\\，及时批改作业、讲评作业，做好课后辅导工\\作，形成比较完整的知识结构，严格要求学生\\，尊重学生，使学生学有所得，从而不断提高\\自己的教学水平和思想觉悟，并顺利完成教育\\教学任务。为了更好的总结经验和教训，争取\\在新的一年里取得更大的成绩和收获，为下一\\步的教学工作打下坚实的基础，为进一步提高\\自己的教学技能，特作以下总结：};
\mmLL{l10a}{585}{4759}{一、教学工作：}
\mmLN{l10a1}{469}{4442}{1、认真备课。本学期本人对教材内容进行了\\认真的学习和研究，找出教学内容的重点和难\\点，经常与其他数学老师相互交流，选择出新\\颖的教学教法，精心设计，写出切实可行的备\\课教案，并坚持做到超前备课，在上课前再进\\一步认真熟悉，做到熟记教案、熟记每节重点\\和难点，然后上课。这样就能够做到上课游刃\\有余，机动灵活，大大增强了课堂教学效果，\\教学成绩有了明显的提高。课后及时做出总结\\，写好课后记录，及时与其他老师交流、讨论\\。}
\mmLN{l10a2}{469}{4707}{2、认真上课。本人在本学期严格做到了按时\\上课从不迟到，从不早退，认真组织课堂，上\\课严格要求学生，精讲多练，能够较好的抓住\\重点，突破难点，把握装教为主导、学为主体\\、思维训练为主线的原则”，训练学生的思维\\，培养学生的能力。主动积极的去引导、启发\\学生，注意调动学生的积极性，面向全体学生\\，加强师生交流，充分体现学生的主体作用。\\特别是针对期中考试和期末考试，本人加大了\\对试题的研究，通过对考点的分析，进一步挖\\掘课本中的'难点和重点，有针对性地加强讲\\练，取得了良好的效果。同时，本人还加强了\\电化教学在数学教学中的应用。本人从这一学\\期末，已经着手课件制作的进一步学习研究，\\把多媒体真正引入课堂。}
\mmLN{l10a3}{469}{4819}{3、认真批改作业。本人一丝不苟的认真批改\\每一本作业，从不马虎，从不应付了事，并且\\积极做到了及时批改，及时发放，不会因为其\\他工作忙而耽误了批改。从而保证了作业反馈\\的及时、准确，确保了作业的实效性。}
\mmLN{l10a4}{469}{4917}{4、认真进行月考。本学期月考，均做到了认\\真的全批全改，使反馈矫正做到有理有据，并\\把知识面拓宽到，使学生的知识水平得到了的\\提高。}
\mmLN{l10a5}{469}{5075}{5、积极参与听课、评课，虚心向同行学习教\\学方法，提高教学水平。主动积极与同备课老\\师交流，共同探究教育教学。积极参与学校公\\开周公开课教学。认真听取其他老师的每堂公\\开课，学习别人的优点，克服自己的不足，改\\进教学工作，提高教学水平。通过参加教研活\\动，丰富了自己的教学方法和教学技能，为进\\一步提高教学成绩打下了坚实的基垦}
\mmLL{l10b}{585}{5256}{二、取得的成绩：}
\mmLN{l10b1}{457}{5178}{1、在其他老师的帮助与自己的努力之下，本\\学期在期末考试中取得了一定的成绩，一（3\\）班：及格21人，优秀6人，及格率\%；一（\\5）班：及格19人，优秀5人，及格率\%。}
\mmLL{l10b2}{457}{5335}{2、存在的主要问题：}
\mmLN{l10b2a}{311}{5245}{对学生缺乏一点\\评多，表扬少。}
\mmLN{l10b2b}{311}{5344}{各，学生的行为和\\有上课多动，作业\\这方面抓得还不够}
\mmLN{l10b2c}{311}{5426}{扎实，学习困难学\\对学习困难学生的}
\mmLL{l10c}{585}{5850}{三、改进措施：}
\mmLN{l10c1}{469}{5524}{（1）生严格要求，培养良好的学习习惯和学\\习方法。改变学生学习数学的一些思想观念，\\树立学好数学的信心；变学生不良的学习习惯\\，建立良好的学习方法和学习习惯。}
\mmLN{l10c2}{469}{5745}{有些学生有不好的'学习习惯，例如作业字迹\\潦草，不写解答过程；不喜欢课前预习和课后\\复习；不会总结消化知识；对学习马虎大意，\\过分自信等。作为任科教师要统一作业格式，\\表扬优秀作业，指导他们预习和复习，强调总\\结的重要性，并有一些具体的做法，如把错题\\改在作业本上，或者改在试卷上，另外还有其\\他的错题改在纠错本上等，让学生总结做题规\\律等。对做得好的同学全班表扬并推广，不做\\或做得差的同学要批评，使学生慢慢地建立起\\好的学习方法和认真的学习态度。当然，要改\\变根深蒂固的问题并不容易，要坚持下去。}
\mmLN{l10c3}{469}{5903}{（2）钻研教材，不断提高自身的教学教研能\\力。平时要认真阅读新课标，钻研新教材，熟\\悉教材内容，查阅教学资料，适当适当调整课\\节数，认真细致的备好每一节课，真正做到重\\点难点明确，方法得当，课堂有时效性，确实\\提高课堂效益。遇到难以解决的问题，就在备\\课组内讨论或者请教老教师，让他们帮忙解决\\。另外，要积极阅读教学教参书等。}
\mmLN{l10c4}{469}{6079}{期末考试已经结束，一次考试并不是句号，更\\不是人生的全部。人生道路有风和日丽的日子\\，也有阴雨连绵的岁月，你不能左右天气，却\\可以改变心情，你不能改变容貌，却可以展现\\笑容，你不能改变世界，却可以改变自己。要\\从暂时的沮丧中走出来，卧薪尝胆，及时调整\\自己，为下一次考试早作准备。有这样一句格\\言：“在人生的道路上，想哭就哭，想笑就笑\\吧，只是别忘了赶路”。}
\mmLN{l10c5}{469}{6175}{以上的取得工作成绩是本人积极努力的结果，\\但更离不开学校领导的正确领导，离不开各位\\老师的帮助和支持。总之，本人将在以后的工\\作中更加努力，以期望取得更大的成绩。}
\draw[mmbus] (lb10.west) -- (l10.south east);
\foreach \c in {l10a,l10b,l10c} {\mmL{l10}{\c}}
\foreach \c in {l10a1,l10a2,l10a3,l10a4,l10a5} {\mmL{l10a}{\c}}
\foreach \c in {l10b1,l10b2} {\mmL{l10b}{\c}}
\foreach \c in {l10b2a,l10b2b,l10b2c} {\mmL{l10b2}{\c}}
\foreach \c in {l10c1,l10c2,l10c3,l10c4,l10c5} {\mmL{l10c}{\c}}
\end{tikzpicture}
\end{document}
